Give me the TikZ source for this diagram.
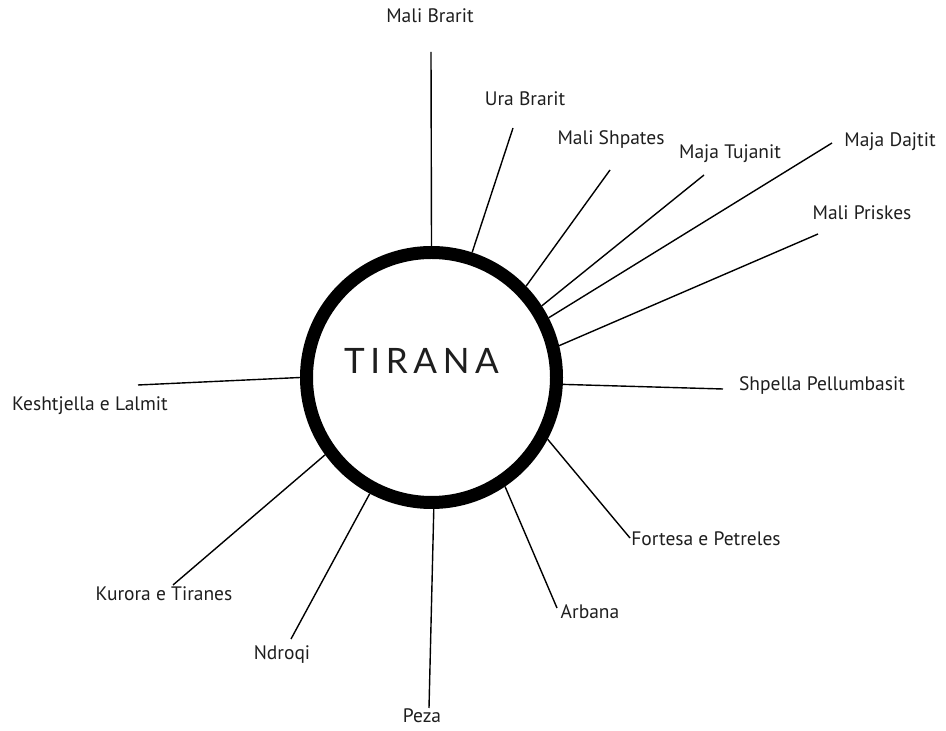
\documentclass[tikz,border=0pt]{standalone}
\usepackage{fontspec}
\setmainfont{PT Sans}
\newfontfamily\hubfont[LetterSpace=16]{Lato}
\definecolor{labelgrey}{HTML}{1E1E1E}

\begin{document}
\begin{tikzpicture}[x=1pt,y=1pt,
  hub/.style={draw, circle, line width=13pt, minimum size=250pt, inner sep=0pt},
  place/.style={text=labelgrey, font=\fontsize{19.5}{22}\selectfont, inner sep=0pt,
    text height=1.6ex, text depth=0.4ex, yshift=-3pt},
  spoke/.style={line width=1.4pt, black}]
\useasboundingbox (0,0) rectangle (946,731);
\node[hub] (tirana) at (431.5,353.5) {};
\node[text=labelgrey, font=\hubfont\fontsize{35}{40}\selectfont] (name) at (421.5,370.5) {TIRANA};
% outer ends of the spokes
\coordinate (e1) at (431,679);
\coordinate (e2) at (513,603);
\coordinate (e3) at (610,561);
\coordinate (e4) at (704,556);
\coordinate (e5) at (832,588);
\coordinate (e6) at (818,497);
\coordinate (e7) at (723,342);
\coordinate (e8) at (630,193);
\coordinate (e9) at (557,123);
\coordinate (e10) at (429,23);
\coordinate (e11) at (291,92);
\coordinate (e12) at (173,146);
\coordinate (e13) at (138,346);
% labels
\node[place] (1) at (430,714) {Mali Brarit};
\node[place] (2) at (525,631) {Ura Brarit};
\node[place] (3) at (611,592) {Mali Shpates};
\node[place] (4) at (730,578) {Maja Tujanit};
\node[place] (5) at (890,590) {Maja Dajtit};
\node[place] (6) at (862,517) {Mali Priskes};
\node[place] (7) at (822,346) {Shpella Pellumbasit};
\node[place] (8) at (706,191) {Fortesa e Petreles};
\node[place] (9) at (590,118) {Arbana};
\node[place] (10) at (422,14) {Peza};
\node[place] (11) at (282,77) {Ndroqi};
\node[place] (12) at (164,136) {Kurora e Tiranes};
\node[place] (13) at (90,326) {Keshtjella e Lalmit};
\path[draw,spoke] (tirana.90) -- (e1);
\path[draw,spoke] (tirana.72) -- (e2);
\path[draw,spoke] (tirana.44.4) -- (e3);
\path[draw,spoke] (tirana.33.3) -- (e4);
\path[draw,spoke] (tirana.27) -- (e5);
\path[draw,spoke] (tirana.14.3) -- (e6);
\path[draw,spoke] (tirana.-3.3) -- (e7);
\path[draw,spoke] (tirana.-28.2) -- (e8);
\path[draw,spoke] (tirana.-56.8) -- (e9);
\path[draw,spoke] (tirana.-89.3) -- (e10);
\path[draw,spoke] (tirana.-118) -- (e11);
\path[draw,spoke] (tirana.-144.2) -- (e12);
\path[draw,spoke] (tirana.180) -- (e13);
\end{tikzpicture}
\end{document}
